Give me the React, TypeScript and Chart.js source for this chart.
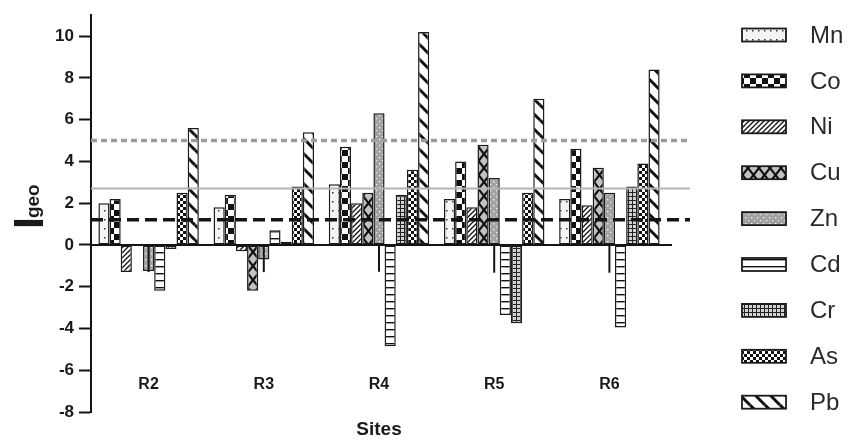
import React, { useEffect, useRef } from 'react';
import { Chart, registerables } from 'chart.js';

Chart.register(...registerables);

// ---------- data ----------
const sites = ['R2', 'R3', 'R4', 'R5', 'R6'];
const seriesNames = ['Mn', 'Co', 'Ni', 'Cu', 'Zn', 'Cd', 'Cr', 'As', 'Pb'];
const mnValues = [2.0, 1.8, 2.9, 2.2, 2.2];
const coValues = [2.2, 2.4, 4.7, 4.0, 4.6];
const niValues = [-1.3, -0.3, 2.0, 1.8, 1.9];
const cuValues = [0, -2.2, 2.5, 4.8, 3.7];
const znValues = [-1.25, -0.7, 6.3, 3.2, 2.5];
const cdValues = [-2.2, 0.7, -4.85, -3.35, -3.95];
const crValues = [-0.2, 0.15, 2.4, -3.75, 2.8];
const asValues = [2.5, 2.8, 3.6, 2.5, 3.9];
const pbValues = [5.6, 5.4, 10.2, 7.0, 8.4];
const znLowerWhisker = [-1.3, -1.3, -1.28, -1.33, -1.33];
const referenceLevels = [5.0, 2.7, 1.2];
const yTickValues = [-8, -6, -4, -2, 0, 2, 4, 6, 8, 10];
const yMin = -8;
const yMax = 11;
const xTitle = 'Sites';
const yTitleMain = 'I';
const yTitleSub = 'geo';

const seriesValues = [mnValues, coValues, niValues, cuValues, znValues, cdValues, crValues, asValues, pbValues];

// ---------- patterns ----------
function tile(w: number, h: number, draw: (c: CanvasRenderingContext2D, w: number, h: number) => void) {
  const cv = document.createElement('canvas');
  cv.width = w;
  cv.height = h;
  const c = cv.getContext('2d')!;
  draw(c, w, h);
  return cv;
}

function diag(c: CanvasRenderingContext2D, w: number, h: number, dir: 1 | -1) {
  for (let dx = -w; dx <= w; dx += w) {
    for (let dy = -h; dy <= h; dy += h) {
      c.beginPath();
      if (dir === 1) {
        c.moveTo(dx, dy + h);
        c.lineTo(dx + w, dy);
      } else {
        c.moveTo(dx, dy);
        c.lineTo(dx + w, dy + h);
      }
      c.stroke();
    }
  }
}

function makePatterns(ctx: CanvasRenderingContext2D): (CanvasPattern | string)[] {
  const tiles: HTMLCanvasElement[] = [
    // Mn: light with sparse dots
    tile(6, 9, (c, w, h) => {
      c.fillStyle = '#f4f4f4';
      c.fillRect(0, 0, w, h);
      c.fillStyle = '#333';
      c.fillRect(2, 3, 1.5, 1.5);
    }),
    // Co: large checkerboard
    tile(12, 12, (c) => {
      c.fillStyle = '#fff';
      c.fillRect(0, 0, 12, 12);
      c.fillStyle = '#111';
      c.fillRect(0, 0, 6, 6);
      c.fillRect(6, 6, 6, 6);
    }),
    // Ni: dense forward diagonals
    tile(5, 5, (c, w, h) => {
      c.fillStyle = '#fff';
      c.fillRect(0, 0, w, h);
      c.strokeStyle = '#111';
      c.lineWidth = 1.3;
      diag(c, w, h, 1);
    }),
    // Cu: gray with big X lattice
    tile(11, 14, (c, w, h) => {
      c.fillStyle = '#c2c2c2';
      c.fillRect(0, 0, w, h);
      c.strokeStyle = '#111';
      c.lineWidth = 2.2;
      diag(c, w, h, 1);
      diag(c, w, h, -1);
    }),
    // Zn: gray with light speckles
    tile(6, 6, (c, w, h) => {
      c.fillStyle = '#a2a2a2';
      c.fillRect(0, 0, w, h);
      c.fillStyle = '#eeeeee';
      c.fillRect(1, 1, 1.4, 1.4);
      c.fillRect(4, 4, 1.2, 1.2);
    }),
    // Cd: horizontal rungs
    tile(8, 7, (c, w, h) => {
      c.fillStyle = '#fff';
      c.fillRect(0, 0, w, h);
      c.fillStyle = '#111';
      c.fillRect(0, 0, w, 1.4);
    }),
    // Cr: fine grid on gray
    tile(4, 4, (c, w, h) => {
      c.fillStyle = '#d2d2d2';
      c.fillRect(0, 0, w, h);
      c.fillStyle = '#222';
      c.fillRect(0, 0, w, 1);
      c.fillRect(0, 0, 1, h);
    }),
    // As: small checkerboard
    tile(6, 6, (c) => {
      c.fillStyle = '#fff';
      c.fillRect(0, 0, 6, 6);
      c.fillStyle = '#111';
      c.fillRect(0, 0, 3, 3);
      c.fillRect(3, 3, 3, 3);
    }),
    // Pb: thick back diagonals
    tile(15, 15, (c, w, h) => {
      c.fillStyle = '#fff';
      c.fillRect(0, 0, w, h);
      c.strokeStyle = '#111';
      c.lineWidth = 3;
      diag(c, w, h, -1);
    }),
  ];
  return tiles.map((t) => ctx.createPattern(t, 'repeat') || '#ccc');
}

// ---------- overlay plugin ----------
const overlayPlugin = {
  id: 'igeoOverlay',
  afterDatasetsDraw(chart: any) {
    const { ctx, chartArea, scales } = chart;
    const y = scales.y;
    const y0 = y.getPixelForValue(0);
    ctx.save();
    // zero baseline
    ctx.strokeStyle = '#141414';
    ctx.lineWidth = 2;
    ctx.beginPath();
    ctx.moveTo(chartArea.left, y0);
    ctx.lineTo(chartArea.right + 5, y0);
    ctx.stroke();
    // Zn whiskers
    const znMeta = chart.getDatasetMeta(4);
    znLowerWhisker.forEach((v, i) => {
      const bar = znMeta.data[i];
      if (!bar) return;
      ctx.beginPath();
      ctx.moveTo(bar.x, y0);
      ctx.lineTo(bar.x, y.getPixelForValue(v));
      ctx.stroke();
    });
    // reference lines
    const styles = [
      { color: '#9c9c9c', width: 3.5, dash: [6, 4] },
      { color: '#b4b4b4', width: 2, dash: [] as number[] },
      { color: '#141414', width: 3.5, dash: [12, 6] },
    ];
    referenceLevels.forEach((lv, i) => {
      const st = styles[i];
      const py = y.getPixelForValue(lv);
      ctx.strokeStyle = st.color;
      ctx.lineWidth = st.width;
      ctx.setLineDash(st.dash);
      ctx.beginPath();
      ctx.moveTo(chartArea.left, py);
      ctx.lineTo(chartArea.right + 23, py);
      ctx.stroke();
    });
    ctx.setLineDash([]);
    ctx.restore();
  },
  afterDraw(chart: any) {
    const { ctx, chartArea, scales } = chart;
    const x = scales.x;
    ctx.save();
    // category labels
    ctx.fillStyle = '#1a1a1a';
    ctx.font = 'bold 16px "Liberation Sans", Arial, sans-serif';
    ctx.textAlign = 'center';
    ctx.textBaseline = 'middle';
    sites.forEach((s, i) => {
      ctx.fillText(s, x.getPixelForValue(i), chartArea.bottom - 27);
    });
    // x title
    ctx.font = 'bold 19px "Liberation Sans", Arial, sans-serif';
    ctx.fillText(xTitle, (chartArea.left + chartArea.right) / 2, chartArea.bottom + 18);
    // y title with subscript
    ctx.translate(chartArea.left - 48, 229);
    ctx.rotate(-Math.PI / 2);
    ctx.textAlign = 'left';
    ctx.textBaseline = 'alphabetic';
    ctx.font = 'bold 43px "Liberation Sans", Arial, sans-serif';
    ctx.fillText(yTitleMain, 0, 0);
    const iw = ctx.measureText(yTitleMain).width;
    ctx.font = 'bold 19px "Liberation Sans", Arial, sans-serif';
    ctx.fillText(yTitleSub, iw - 1, -4);
    ctx.restore();

    // legend
    const pats = chart.data.datasets.map((d: any) => d.backgroundColor);
    ctx.save();
    const boxX = chart.width - 117;
    const boxW = 44;
    const boxH = 13;
    const textX = chart.width - 49;
    const rowTop = 35;
    const rowGap = 45.9;
    seriesNames.forEach((name, i) => {
      const cy = rowTop + i * rowGap;
      ctx.fillStyle = pats[i];
      ctx.fillRect(boxX, cy - boxH / 2, boxW, boxH);
      ctx.strokeStyle = '#1b1b1b';
      ctx.lineWidth = 1.8;
      ctx.strokeRect(boxX, cy - boxH / 2, boxW, boxH);
      ctx.fillStyle = '#2a2a2a';
      ctx.font = '24px "Liberation Sans", Arial, sans-serif';
      ctx.textAlign = 'left';
      ctx.textBaseline = 'middle';
      ctx.fillText(name, textX, cy + 1);
    });
    ctx.restore();
  },
};

export default function App() {
  const ref = useRef<HTMLCanvasElement | null>(null);
  useEffect(() => {
    const canvas = ref.current;
    if (!canvas) return;
    const ctx = canvas.getContext('2d')!;
    const patterns = makePatterns(ctx);
    const chart = new Chart(canvas, {
      type: 'bar',
      data: {
        labels: sites,
        datasets: seriesNames.map((name, k) => ({
          label: name,
          data: seriesValues[k],
          backgroundColor: patterns[k] as any,
          borderColor: '#1b1b1b',
          borderWidth: 1.5,
          borderSkipped: false,
        })),
      },
      options: {
        animation: false,
        responsive: false,
        devicePixelRatio: 1,
        layout: { padding: { left: 0, right: 192, top: 9, bottom: 30 } },
        datasets: { bar: { categoryPercentage: 0.872, barPercentage: 1 } } as any,
        plugins: { legend: { display: false }, tooltip: { enabled: false } },
        scales: {
          x: { display: false },
          y: {
            min: yMin,
            max: yMax,
            afterFit: (s: any) => {
              s.width = 91;
            },
            afterBuildTicks: (s: any) => {
              s.ticks = yTickValues.map((v) => ({ value: v }));
            },
            grid: {
              drawOnChartArea: false,
              drawTicks: true,
              tickLength: 12,
              tickWidth: 2,
              tickColor: '#141414',
            },
            border: { display: true, color: '#141414', width: 2 },
            ticks: {
              padding: 5,
              color: '#1a1a1a',
              font: { family: '"Liberation Sans", Arial, sans-serif', size: 17, weight: 'bold' },
            },
          },
        },
      },
      plugins: [overlayPlugin],
    });
    return () => chart.destroy();
  }, []);
  return (
    <div style={{ position: 'fixed', left: 0, top: 0, width: 859, height: 442, background: '#fff' }}>
      <canvas ref={ref} width={859} height={442} style={{ display: 'block', width: 859, height: 442 }} />
    </div>
  );
}
